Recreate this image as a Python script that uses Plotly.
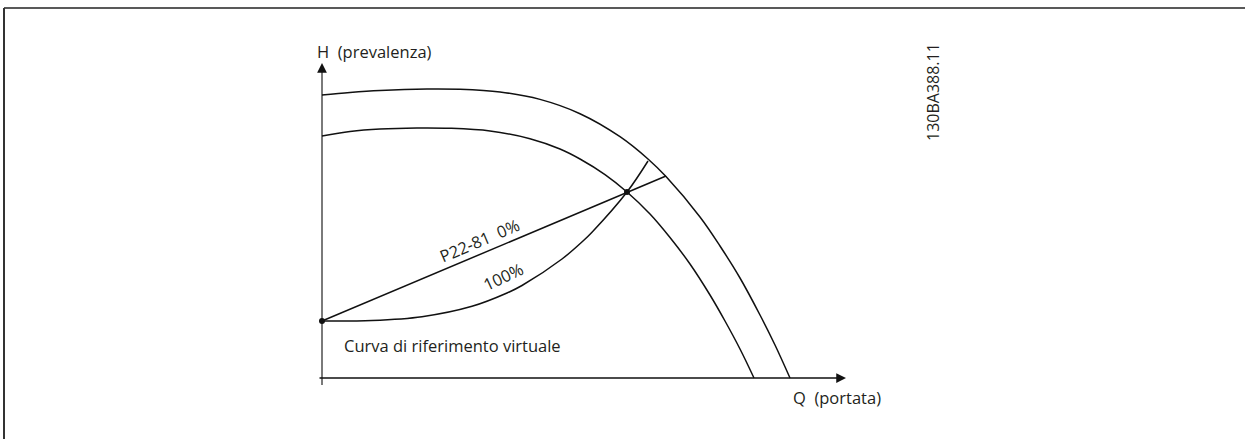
import plotly.graph_objects as go

# Pump curves in (Q, H) units; origin of the diagram at Q=0, H=0
q_max_speed = [0, 28, 58, 105, 138, 178, 218, 258, 298, 326, 344, 378, 398, 418, 438, 453, 468]
h_max_speed = [283, 285.5, 287.5, 289, 288.7, 286, 278.6, 264.3, 241.3, 219, 201.4, 161, 132, 100, 63, 33, 0]

q_min_speed = [0, 28, 58, 95, 128, 168, 208, 238, 258, 283, 305, 328, 348, 368, 388, 403, 418, 432]
h_min_speed = [242, 246.5, 249, 250, 249.7, 247, 239.3, 229, 219, 203.4, 186, 164, 140.5, 114, 83, 57, 29, 0]

# Virtual reference curve, 100 % (system curve)
q_sys_100 = [0, 50, 100, 150, 185, 200, 240, 261, 270, 305, 326]
h_sys_100 = [57, 57.5, 61.3, 71.7, 85, 92.5, 119, 137, 145.8, 186, 217]

# P22-81 = 0 % (linear system curve)
q_sys_0 = [0, 344]
h_sys_0 = [57, 202]

# Operating points
q_points = [0, 305]
h_points = [57, 186]

# Axis extents
q_axis = [-4, 524]
h_axis = [-7, 315]

INK = "#111111"
TXT = "#231f20"
FONT = "Open Sans"
FS = 16.5

fig = go.Figure()

line_style = dict(color=INK, width=1.5, shape="spline", smoothing=1.0)
for qs, hs in [(q_max_speed, h_max_speed), (q_min_speed, h_min_speed),
               (q_sys_100, h_sys_100)]:
    fig.add_trace(go.Scatter(x=qs, y=hs, mode="lines", line=line_style,
                             hoverinfo="skip", showlegend=False))

fig.add_trace(go.Scatter(x=q_sys_0, y=h_sys_0, mode="lines",
                         line=dict(color=INK, width=1.5),
                         hoverinfo="skip", showlegend=False))

fig.add_trace(go.Scatter(x=q_points, y=h_points, mode="markers",
                         marker=dict(color=INK, size=6),
                         hoverinfo="skip", showlegend=False))

# Axes drawn as lines with arrowheads
fig.add_shape(type="line", x0=0, x1=0, y0=h_axis[0], y1=h_axis[1] - 8,
              line=dict(color="#7a7a7a", width=2), layer="below")
fig.add_annotation(x=0, y=h_axis[1], ax=0, ay=h_axis[1] - 10,
                   xref="x", yref="y", axref="x", ayref="y",
                   showarrow=True, arrowhead=2, arrowsize=1.3, arrowwidth=1.5,
                   arrowcolor=INK, text="")
fig.add_annotation(x=q_axis[1], y=0, ax=q_axis[0], ay=0,
                   xref="x", yref="y", axref="x", ayref="y",
                   showarrow=True, arrowhead=2, arrowsize=1.3, arrowwidth=1.5,
                   arrowcolor=INK, text="")

# Labels
fig.add_annotation(x=-7, y=327, xref="x", yref="y", text="H  (prevalenza)",
                   showarrow=False, xanchor="left", yanchor="middle",
                   font=dict(family=FONT, size=FS, color=TXT))
fig.add_annotation(x=469, y=-19, xref="x", yref="y", text="Q  (portata)",
                   showarrow=False, xanchor="left", yanchor="middle",
                   font=dict(family=FONT, size=FS, color=TXT))
fig.add_annotation(x=20, y=33, xref="x", yref="y", text="Curva di riferimento virtuale",
                   showarrow=False, xanchor="left", yanchor="middle",
                   font=dict(family=FONT, size=FS, color=TXT))
fig.add_annotation(x=157, y=138, xref="x", yref="y", text="P22-81  0%",
                   showarrow=False, textangle=-23,
                   font=dict(family=FONT, size=FS, color=TXT))
fig.add_annotation(x=181, y=102, xref="x", yref="y", text="100%",
                   showarrow=False, textangle=-25,
                   font=dict(family=FONT, size=FS, color=TXT))
fig.add_annotation(x=611, y=286, xref="x", yref="y", text="130BA388.11",
                   showarrow=False, textangle=-90,
                   font=dict(family=FONT, size=16, color=TXT))

# Outer frame (top and left edges)
fig.add_shape(type="line", xref="paper", yref="paper",
              x0=4 / 1245, x1=1, y0=1 - 8 / 439, y1=1 - 8 / 439,
              line=dict(color="#222222", width=1.5))
fig.add_shape(type="line", xref="paper", yref="paper",
              x0=4 / 1245, x1=4 / 1245, y0=0, y1=1 - 8 / 439,
              line=dict(color="#333333", width=2))

fig.update_layout(
    width=1245, height=439,
    margin=dict(l=0, r=0, t=0, b=0),
    paper_bgcolor="white", plot_bgcolor="white",
    xaxis=dict(range=[-322, 923], visible=False, fixedrange=True),
    yaxis=dict(range=[-61, 378], visible=False, fixedrange=True),
    showlegend=False,
)

fig.write_html("out.html")
